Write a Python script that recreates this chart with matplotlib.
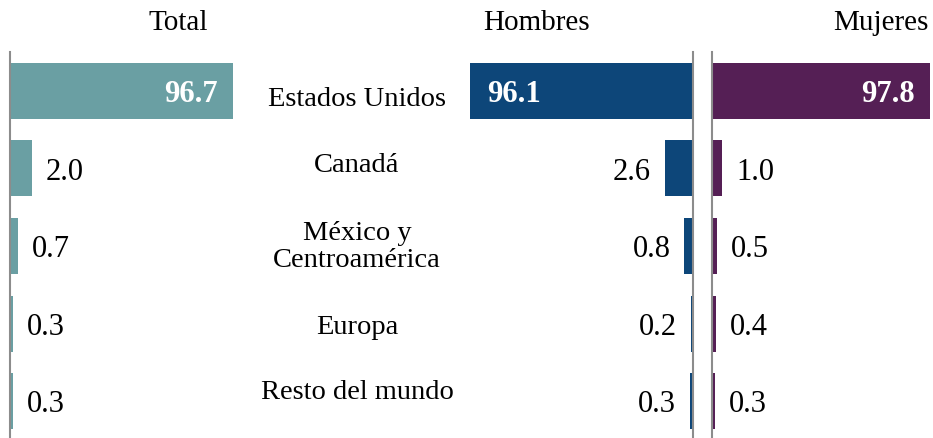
import matplotlib.pyplot as plt

# Datos
regiones = ["Estados Unidos", "Canadá", "México y\nCentroamérica", "Europa", "Resto del mundo"]
total = [96.7, 2.0, 0.7, 0.3, 0.3]
hombres = [96.1, 2.6, 0.8, 0.2, 0.3]
mujeres = [97.8, 1.0, 0.5, 0.4, 0.3]

plt.rcParams["font.family"] = ["Liberation Serif", "DejaVu Serif"]

W, H = 933, 439
fig = plt.figure(figsize=(W / 100, H / 100), dpi=100)

def px_axes(x0, x1, y0=53, y1=441):
    return fig.add_axes([x0 / W, 1 - y1 / H, (x1 - x0) / W, (y1 - y0) / H])

paneles = [
    (total, "#6a9fa3", px_axes(10, 233), 20.3, False),
    (hombres, "#0d4679", px_axes(470, 693), 20.6, True),
    (mujeres, "#551f55", px_axes(712, 930), 21.0, False),
]

FS_VAL = 22

for valores, color, ax, xmax, invertido in paneles:
    ypos = range(len(valores))
    ax.barh(ypos, valores, height=0.72, color=color)
    ax.set_xlim(0, xmax)
    ax.set_ylim(len(valores) - 0.5, -0.5)
    if invertido:
        ax.invert_xaxis()
    for s in ax.spines.values():
        s.set_visible(False)
    lado = "right" if invertido else "left"
    ax.spines[lado].set_visible(True)
    ax.spines[lado].set_color("#8c8c8c")
    ax.spines[lado].set_linewidth(1.5)
    ax.set_xticks([])
    ax.set_yticks([])
    ax.patch.set_alpha(0)
    for i, v in enumerate(valores):
        txt = f"{v:.1f}"
        if v > xmax:
            # barra recortada: etiqueta dentro
            if invertido:
                ax.annotate(txt, (xmax, i), xytext=(12, -2), textcoords="offset points",
                            ha="left", va="center", color="white", fontsize=FS_VAL,
                            fontweight="bold")
            else:
                ax.annotate(txt, (xmax, i), xytext=(-11, -2), textcoords="offset points",
                            ha="right", va="center", color="white", fontsize=FS_VAL,
                            fontweight="bold")
        else:
            if invertido:
                ax.annotate(txt, (v, i), xytext=(-10, -2), textcoords="offset points",
                            ha="right", va="center", color="black", fontsize=FS_VAL)
            else:
                ax.annotate(txt, (v, i), xytext=(10, -2), textcoords="offset points",
                            ha="left", va="center", color="black", fontsize=FS_VAL)

# Etiquetas de categorías en el centro
label_y = [100, 166, 247, 328, 393]
for r, y in zip(regiones, label_y):
    fig.text(357 / W, 1 - y / H, r, ha="center", va="center",
             fontsize=20.5, linespacing=1.1)

# Títulos
fig.text(208 / W, 1 - 23 / H, "Total", ha="right", va="center", fontsize=21)
fig.text(590 / W, 1 - 23 / H, "Hombres", ha="right", va="center", fontsize=21)
fig.text(929 / W, 1 - 23 / H, "Mujeres", ha="right", va="center", fontsize=21)

fig.savefig("out.png", dpi=100)
